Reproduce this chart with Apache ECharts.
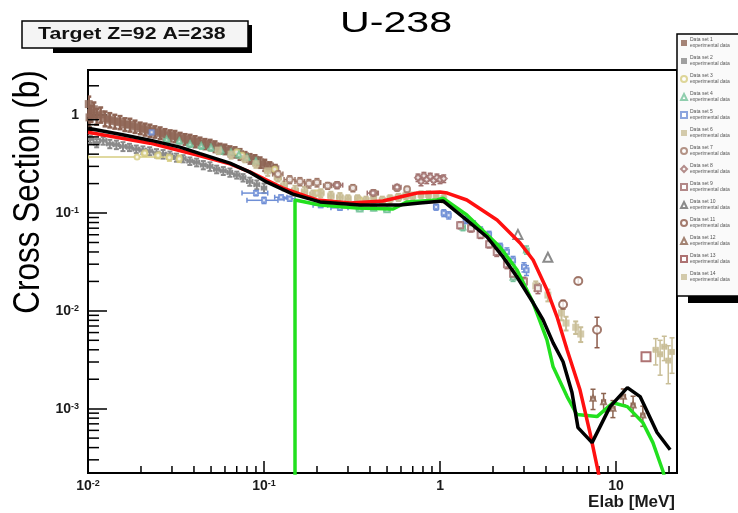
<!DOCTYPE html>
<html><head><meta charset="utf-8">
<script src="https://cdn.jsdelivr.net/npm/echarts@6/dist/echarts.min.js"></script>
<style>html,body{margin:0;padding:0;background:#fff}#c{width:738px;height:513px}</style>
</head><body><div id="c"></div>
<script>
// ---------- axis ranges & ticks ----------
const X_MIN = 0.01, X_MAX = 22.2;
const Y_MIN = 2.2e-4, Y_MAX = 2.9;
const xMinorTicks = [0.02,0.03,0.04,0.05,0.06,0.07,0.08,0.09,0.2,0.3,0.4,0.5,0.6,0.7,0.8,0.9,2,3,4,5,6,7,8,9,20];
const yMinorTicks = [3e-4,4e-4,5e-4,6e-4,7e-4,8e-4,9e-4,0.002,0.003,0.004,0.005,0.006,0.007,0.008,0.009,0.02,0.03,0.04,0.05,0.06,0.07,0.08,0.09,0.2,0.3,0.4,0.5,0.6,0.7,0.8,0.9,2];

// ---------- evaluated curves [E (MeV), sigma (b)] ----------
const curveBlack = [[0.01,0.737],[0.0152,0.64],[0.0225,0.556],[0.0333,0.472],[0.0433,0.405],[0.064,0.324],[0.083,0.262],[0.104,0.207],[0.146,0.156],[0.208,0.130],[0.351,0.121],[0.593,0.121],[0.769,0.1266],[1.04,0.133],[1.42,0.0848],[1.85,0.0569],[2.28,0.0356],[2.74,0.0222],[3.38,0.0121],[3.85,0.00809],[4.39,0.00471],[5.0,0.00302],[5.62,0.00146],[6.08,0.00064],[7.31,0.00045],[9.25,0.00105],[11.6,0.00164],[13.7,0.00133],[17.1,0.00057],[20.3,0.00038]];
const curveRed = [[0.01,0.671],[0.0225,0.518],[0.0433,0.385],[0.064,0.318],[0.083,0.264],[0.128,0.180],[0.200,0.136],[0.308,0.1266],[0.474,0.133],[0.740,0.160],[1.0,0.164],[1.1,0.160],[1.42,0.136],[2.11,0.0848],[2.85,0.0494],[3.38,0.0331],[4.05,0.0164],[4.62,0.00869],[5.27,0.0040],[6.24,0.00156],[7.11,0.00057],[7.91,0.000228],[8.4,0.000133]];
const curveGreen = [[0.15,0.00001],[0.15,0.136],[0.208,0.121],[0.337,0.1125],[0.541,0.110],[0.649,0.130],[0.962,0.136],[1.04,0.142],[1.42,0.0954],[2.19,0.045],[2.74,0.0262],[3.38,0.0121],[4.05,0.00506],[4.39,0.00268],[5.27,0.00133],[6.0,0.00087],[7.8,0.00083],[9.6,0.00115],[11.6,0.00105],[14.2,0.00072],[16.2,0.00045],[18.5,0.000228],[19.6,0.000149]];

// ---------- experimental data [E, sigma, dE, dSigma] ----------
const expBrownLow = [[0.0101,1.30,0,0.25],[0.0102,0.95,0,0.2],[0.0104,1.05,0,0.2],[0.0108,1.15,0,0.2],[0.0112,0.98,0,0.18],[0.0118,1.02,0,0.18],[0.0125,0.93,0,0.16],[0.0133,0.90,0,0.15],[0.0142,0.87,0,0.14],[0.0152,0.85,0,0.13],[0.0162,0.81,0,0.12],[0.0173,0.80,0,0.12],[0.0185,0.77,0,0.11],[0.0198,0.74,0,0.1],[0.0211,0.72,0,0.1],[0.0225,0.70,0,0.1],[0.0240,0.68,0,0.09],[0.0257,0.66,0,0.09],[0.0274,0.64,0,0.08],[0.0293,0.62,0,0.08],[0.0312,0.61,0,0.08],[0.0334,0.59,0,0.07],[0.0356,0.57,0,0.07],[0.0380,0.56,0,0.07],[0.0406,0.54,0,0.07],[0.0433,0.53,0,0.06],[0.0462,0.51,0,0.06],[0.0494,0.50,0,0.06],[0.0527,0.48,0,0.06],[0.0563,0.46,0,0.05],[0.0600,0.45,0,0.05],[0.0641,0.43,0,0.05],[0.0685,0.42,0,0.05],[0.0731,0.40,0,0.05],[0.0780,0.38,0,0.04],[0.0833,0.36,0,0.04],[0.0889,0.35,0,0.04],[0.0950,0.33,0,0.04],[0.101,0.31,0,0.04],[0.108,0.30,0,0.03],[0.116,0.28,0,0.03]];
const expGreyLow = [[0.0103,0.57,0.0004,0.05],[0.0112,0.52,0.0004,0.05],[0.0122,0.55,0.0005,0.05],[0.0133,0.51,0.0005,0.05],[0.0145,0.50,0.0005,0.05],[0.0158,0.48,0.0006,0.05],[0.0172,0.47,0.0006,0.04],[0.0188,0.45,0.0007,0.04],[0.0205,0.44,0.0008,0.04],[0.0224,0.43,0.0008,0.04],[0.0245,0.41,0.0009,0.04],[0.0267,0.40,0.001,0.04],[0.0292,0.39,0.001,0.035],[0.0318,0.37,0.001,0.035],[0.0347,0.36,0.0012,0.03],[0.0379,0.34,0.0013,0.03],[0.0414,0.33,0.0014,0.03],[0.0452,0.31,0.0015,0.03],[0.0493,0.30,0.0017,0.03],[0.0538,0.28,0.0018,0.025],[0.0587,0.27,0.002,0.025],[0.064,0.26,0.002,0.025],[0.070,0.245,0.0025,0.02],[0.076,0.23,0.0025,0.02],[0.083,0.21,0.003,0.02],[0.091,0.195,0.003,0.02],[0.1,0.18,0.003,0.02]];
const expYellow = [[0.019,0.375,0.009,0],[0.021,0.41,0.0008,0.03],[0.025,0.39,0.001,0.03],[0.029,0.37,0.001,0.03],[0.033,0.36,0.001,0.03],[0.07,0.42,0.003,0.03],[0.075,0.39,0.003,0.03],[0.115,0.28,0.004,0.02],[0.2,0.16,0.008,0.01],[0.35,0.135,0.01,0.01],[0.5,0.13,0.01,0.01]];
const expTeal = [[0.028,0.57,0.001,0.04],[0.033,0.55,0.001,0.04],[0.038,0.51,0.0015,0.04],[0.044,0.49,0.0015,0.04],[0.050,0.47,0.002,0.04],[0.057,0.44,0.002,0.04],[0.065,0.42,0.003,0.035],[0.072,0.40,0.003,0.035],[0.080,0.37,0.003,0.03],[0.090,0.34,0.004,0.03],[0.35,0.11,0.015,0.006],[0.42,0.112,0.015,0.006],[0.50,0.108,0.02,0.006],[1.35,0.072,0.04,0.006],[2.6,0.022,0.08,0.002],[3.1,0.042,0.1,0.004]];
const expBlue = [[0.023,0.67,0.001,0.04],[0.09,0.16,0.015,0.01],[0.1,0.135,0.02,0.01],[0.125,0.145,0.01,0.008],[0.14,0.14,0.01,0.008],[0.21,0.12,0.02,0.006],[0.27,0.113,0.03,0.006],[0.95,0.115,0.03,0.008],[1.05,0.10,0.03,0.008],[1.12,0.095,0.03,0.008],[1.4,0.085,0.04,0.007],[1.55,0.076,0.04,0.007],[1.7,0.066,0.05,0.006],[1.9,0.06,0.05,0.005],[2.2,0.045,0.06,0.004],[2.4,0.04,0.06,0.004],[2.6,0.033,0.07,0.003],[3.0,0.028,0.08,0.003],[3.1,0.026,0.08,0.003]];
const expTan = [[0.055,0.44,0.002,0.04],[0.065,0.40,0.002,0.04],[0.078,0.36,0.003,0.03],[0.09,0.32,0.003,0.03],[0.105,0.27,0.004,0.03],[0.12,0.23,0.005,0.02],[0.13,0.19,0.005,0.02],[0.15,0.17,0.006,0.02],[0.17,0.165,0.006,0.02],[0.19,0.155,0.007,0.015],[0.21,0.16,0.008,0.015],[0.24,0.15,0.008,0.015],[0.27,0.145,0.01,0.015],[0.30,0.14,0.01,0.012],[0.34,0.14,0.01,0.012],[0.38,0.135,0.012,0.012],[0.42,0.14,0.012,0.012],[0.47,0.135,0.015,0.012],[0.52,0.14,0.015,0.012],[0.58,0.145,0.02,0.012],[0.64,0.15,0.02,0.012],[0.70,0.15,0.02,0.012],[0.78,0.155,0.02,0.012],[0.86,0.155,0.02,0.012],[0.95,0.15,0.02,0.012],[1.05,0.14,0.02,0.012],[3.5,0.018,0,0.002],[4.1,0.0145,0,0.002],[4.9,0.0095,0,0.0015],[5.2,0.0075,0,0.0012],[5.9,0.0068,0,0.001],[6.3,0.0058,0,0.001]];
const expTanHigh = [[16.8,0.0040,0.5,0.0012],[17.8,0.0036,0.5,0.0014],[18.8,0.0043,0.5,0.0012],[19.8,0.0031,0.5,0.0013],[20.8,0.0038,0.4,0.0015]];
const expBrownCircles = [[0.12,0.25,0.008,0.02],[0.14,0.22,0.01,0.02],[0.16,0.21,0.01,0.02],[0.18,0.20,0.01,0.02],[0.20,0.205,0.01,0.02],[0.23,0.19,0.012,0.015],[0.26,0.193,0.012,0.015],[0.32,0.18,0.015,0.015],[0.42,0.16,0.02,0.012],[0.57,0.18,0.02,0.012],[0.65,0.175,0.02,0.012]];
const expBrownMid = [[0.26,0.193,0.02,0.015],[0.416,0.16,0.03,0.012],[0.57,0.184,0.03,0.012],[0.75,0.23,0.02,0.02],[0.78,0.21,0.02,0.02],[0.81,0.24,0.02,0.02],[0.84,0.22,0.02,0.02],[0.88,0.235,0.02,0.02],[0.92,0.215,0.02,0.02],[0.96,0.23,0.02,0.02],[1.0,0.22,0.02,0.02],[1.05,0.225,0.02,0.02]];
const expMauveFall = [[1.3,0.075,0.03,0.006],[1.5,0.07,0.04,0.006],[1.7,0.06,0.04,0.005],[1.9,0.048,0.05,0.004],[2.1,0.04,0.05,0.004],[2.4,0.03,0.06,0.003],[2.6,0.024,0.06,0.003],[3.0,0.02,0.08,0.002],[3.6,0.017,0.1,0.002]];
const expGreyTri = [[2.77,0.0605,0,0],[4.1,0.0353,0,0]];
const expBrownHigh = [[5.0,0.0116,0,0.0012],[6.1,0.0202,0,0.0015],[7.8,0.0064,0,0.0022]];
const expBrownCross = [[7.4,0.00128,0.2,0.0003],[8.5,0.00118,0.2,0.00025],[9.6,0.00101,0.25,0.0002],[11.0,0.00134,0.3,0.00025],[12.5,0.00109,0.3,0.00025],[14.2,0.00086,0.35,0.0002]];
const expMauveSq = [[14.8,0.0034,0,0]];

const dataSets = [
  {name:'Data set 1', data:expBrownLow},
  {name:'Data set 2', data:expGreyLow},
  {name:'Data set 3', data:expYellow},
  {name:'Data set 4', data:expTeal},
  {name:'Data set 5', data:expBlue},
  {name:'Data set 6', data:expTan},
  {name:'Data set 7', data:expBrownCircles},
  {name:'Data set 8', data:expBrownMid},
  {name:'Data set 9', data:expMauveFall},
  {name:'Data set 10', data:expGreyTri},
  {name:'Data set 11', data:expBrownHigh},
  {name:'Data set 12', data:expBrownCross},
  {name:'Data set 13', data:expMauveSq},
  {name:'Data set 14', data:expTanHigh}
];
// styles (kept separate from data)
const setStyles = [
  {color:'#8f6555', symbol:'rect', size:8, lw:2.5},
  {color:'#8a8a8a', symbol:'rect', size:4, lw:2},
  {color:'#d6cc80', symbol:'emptyCircle', size:5, lw:1.5},
  {color:'#74c29a', symbol:'emptyTriangle', size:5, lw:1.5},
  {color:'#6f8fd6', symbol:'emptyRect', size:4, lw:1.5},
  {color:'#c9be97', symbol:'rect', size:7, lw:2},
  {color:'#a07868', symbol:'emptyCircle', size:6, lw:1.5},
  {color:'#a0706e', symbol:'emptyDiamond', size:6, lw:1.5},
  {color:'#a06c6c', symbol:'emptyRect', size:6, lw:1.5},
  {color:'#6e6e6e', symbol:'emptyTriangle', size:9, lw:1.5},
  {color:'#8c5a4a', symbol:'emptyCircle', size:8, lw:1.5},
  {color:'#8c6450', symbol:'emptyTriangle', size:5, lw:1.5},
  {color:'#9a5050', symbol:'emptyRect', size:9, lw:1.5},
  {color:'#c9be97', symbol:'rect', size:6, lw:1.5}
];

function powLabel(v){
  const l = Math.log10(v), r = Math.round(l);
  if (Math.abs(l - r) > 1e-6) return '';
  if (r === 0) return '{b|1}';
  if (r === 1) return '{b|10}';
  return '{b|10}{s|' + r + '}';
}
const FONT = 'Liberation Sans';
const labelRich = {
  b:{fontSize:14, fontWeight:'bold', fontFamily:FONT, color:'#1a1a1a'},
  s:{fontSize:9, fontWeight:'bold', fontFamily:FONT, color:'#1a1a1a', verticalAlign:'top'}
};

function errRender(color, lw){
  return function(params, api){
    const E = api.value(0), s = api.value(1), dE = api.value(2), ds = api.value(3);
    const st = {stroke:color, lineWidth:lw};
    const ch = [];
    if (ds > 0) {
      let lo = s - ds; if (lo <= 0) lo = s * 0.1;
      const a = api.coord([E, lo]), b = api.coord([E, s + ds]);
      ch.push({type:'line', shape:{x1:a[0],y1:a[1],x2:b[0],y2:b[1]}, style:st});
      ch.push({type:'line', shape:{x1:a[0]-2.5,y1:a[1],x2:a[0]+2.5,y2:a[1]}, style:st});
      ch.push({type:'line', shape:{x1:b[0]-2.5,y1:b[1],x2:b[0]+2.5,y2:b[1]}, style:st});
    }
    if (dE > 0) {
      const a = api.coord([E - dE, s]), b = api.coord([E + dE, s]);
      ch.push({type:'line', shape:{x1:a[0],y1:a[1],x2:b[0],y2:b[1]}, style:st});
      ch.push({type:'line', shape:{x1:a[0],y1:a[1]-2.5,x2:a[0],y2:a[1]+2.5}, style:st});
      ch.push({type:'line', shape:{x1:b[0],y1:b[1]-2.5,x2:b[0],y2:b[1]+2.5}, style:st});
    }
    return {type:'group', children:ch};
  };
}

const series = [];
dataSets.forEach((d, i) => {
  const st = setStyles[i];
  series.push({type:'custom', name:d.name + ' errors', data:d.data, renderItem:errRender(st.color, st.lw),
    encode:{x:0, y:1}, clip:true, silent:true, z:2});
  series.push({type:'scatter', name:d.name, data:d.data.map(p => [p[0], p[1]]),
    symbol:st.symbol, symbolSize:st.size, itemStyle:{color:st.color, borderWidth:1.2}, clip:true, silent:true, z:3});
});
// minor ticks (ROOT style, inside the frame)
series.push({type:'custom', name:'xminor', silent:true, clip:false, z:6,
  data:xMinorTicks.map(v => [v, Y_MIN]),
  renderItem:(p, api) => { const c = api.coord([api.value(0), api.value(1)]);
    return {type:'line', shape:{x1:c[0], y1:c[1], x2:c[0], y2:c[1]-7}, style:{stroke:'#000', lineWidth:1.5}}; }});
series.push({type:'custom', name:'yminor', silent:true, clip:false, z:6,
  data:yMinorTicks.map(v => [X_MIN, v]),
  renderItem:(p, api) => { const c = api.coord([api.value(0), api.value(1)]);
    return {type:'line', shape:{x1:c[0], y1:c[1], x2:c[0]+11, y2:c[1]}, style:{stroke:'#000', lineWidth:1.5}}; }});
// curves
[[curveGreen,'#22e01e','Green curve'],[curveRed,'#ff1010','Red curve'],[curveBlack,'#000000','Black curve']].forEach((c, i) => {
  series.push({type:'line', name:c[2], data:c[0], showSymbol:false, symbol:'none', clip:true, silent:true,
    lineStyle:{color:c[1], width:3.5}, z:10 + i});
});

const option = {
  animation:false,
  backgroundColor:'#ffffff',
  grid:{left:88, top:70, width:589, height:403, show:true, borderColor:'#000', borderWidth:2, backgroundColor:'transparent'},
  xAxis:{type:'log', logBase:10, min:X_MIN, max:X_MAX,
    axisLine:{show:true, lineStyle:{color:'#000', width:2}},
    axisTick:{show:true, inside:true, length:12, lineStyle:{color:'#000', width:1.5}},
    minorTick:{show:false}, splitLine:{show:false}, minorSplitLine:{show:false},
    axisLabel:{margin:6, formatter:powLabel, rich:labelRich, showMinLabel:true, showMaxLabel:false, hideOverlap:false},
    name:'Elab [MeV]', nameLocation:'end', nameGap:-2,
    nameTextStyle:{fontSize:17, fontWeight:'bold', fontFamily:FONT, color:'#1a1a1a', align:'right', verticalAlign:'top', padding:[21,0,0,0]}
  },
  yAxis:{type:'log', logBase:10, min:Y_MIN, max:Y_MAX,
    axisLine:{show:true, lineStyle:{color:'#000', width:2}},
    axisTick:{show:true, inside:true, length:19, lineStyle:{color:'#000', width:1.5}},
    minorTick:{show:false}, splitLine:{show:false}, minorSplitLine:{show:false},
    axisLabel:{margin:9, formatter:powLabel, rich:labelRich, showMinLabel:false, showMaxLabel:false, hideOverlap:false}
  },
  legend:{orient:'vertical', left:680, top:37, itemWidth:6, itemHeight:6, itemGap:6, padding:0,
    selectedMode:false, z:100,
    textStyle:{fontSize:5, lineHeight:6, color:'#555', fontFamily:FONT, padding:[0,0,0,-2]},
    formatter:n => n + '\nexperimental data',
    data:dataSets.map(d => d.name)},
  graphic:[
    {type:'rect', z:10, shape:{x:53, y:25, width:199, height:28}, style:{fill:'#000'}},
    {type:'rect', z:11, shape:{x:22, y:21, width:226, height:27}, style:{fill:'#f4f4f4', stroke:'#000', lineWidth:1.5}},
    {type:'text', z:12, x:38, y:35, scaleX:1.33, style:{text:'Target Z=92 A=238', fontSize:16, fontWeight:'bold', fontFamily:FONT, fill:'#111', align:'left', verticalAlign:'middle'}},
    {type:'text', z:12, x:340, y:24, scaleX:1.42, style:{text:'U-238', fontSize:29, fontFamily:FONT, fill:'#000', align:'left', verticalAlign:'middle'}},
    {type:'text', z:12, x:29, y:192, rotation:Math.PI/2, scaleY:1.2, style:{text:'Cross Section (b)', fontSize:31.5, fontFamily:FONT, fill:'#000', align:'center', verticalAlign:'middle'}},
    {type:'rect', z:19, shape:{x:688, y:296, width:60, height:7}, style:{fill:'#000'}},
    {type:'rect', z:20, shape:{x:677, y:34, width:70, height:262}, style:{fill:'#fafafa', stroke:'#000', lineWidth:1.5}}
  ],
  series:series
};
const chart = echarts.init(document.getElementById('c'), null, {renderer:'canvas'});
chart.setOption(option);
</script>
</body></html>
